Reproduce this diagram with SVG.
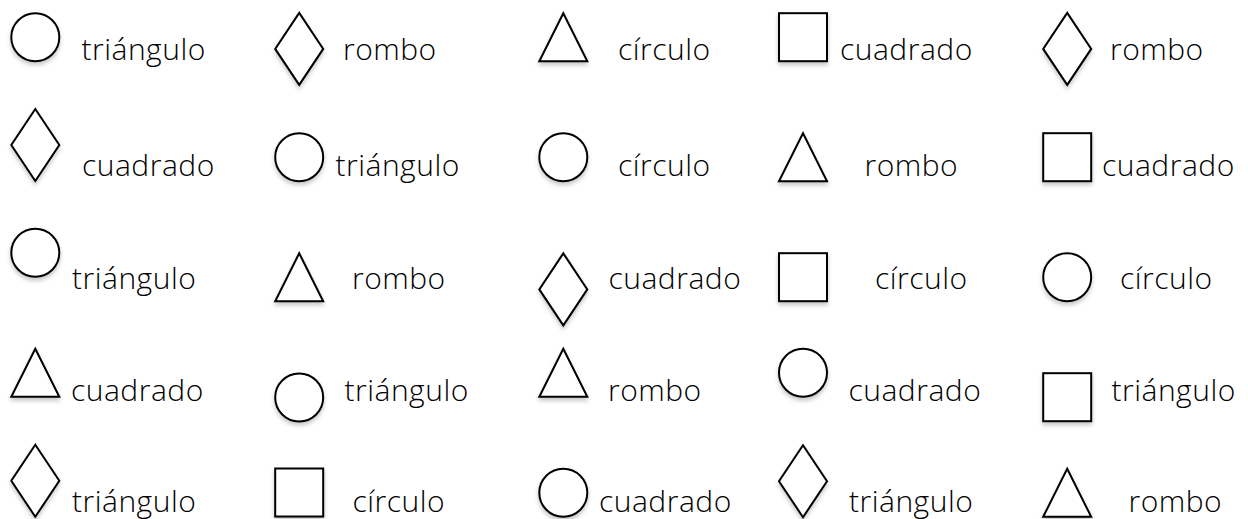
<svg xmlns="http://www.w3.org/2000/svg" xmlns:xlink="http://www.w3.org/1999/xlink" width="1248" height="519" viewBox="0 0 1248 519">
<style>
.sh{fill:#fff;stroke:#000;stroke-width:2;stroke-linejoin:miter;filter:url(#ds)}
.lb{font-family:"Open Sans","Liberation Sans",sans-serif;font-size:30px;font-weight:350;letter-spacing:0.5px;fill:#000}
</style>
<defs>
<filter id="ds" x="-30%" y="-30%" width="160%" height="170%">
<feDropShadow dx="0" dy="3" stdDeviation="2" flood-color="#000" flood-opacity="0.22"/>
</filter>
<circle id="c" cx="0" cy="0" r="24"/>
<rect id="s" x="-24" y="-24" width="48" height="48"/>
<polygon id="t" points="0,-24 24,24 -24,24"/>
<polygon id="d" points="0,-36 24,0 0,36 -24,0"/>
</defs>
<rect width="1248" height="519" fill="#fff"/>
<g id="connectors"></g>
<g id="r1c1"><use href="#c" class="sh" x="35.3" y="37.2"/><text class="lb" x="81.5" y="59.8">triángulo</text></g>
<g id="r1c2"><use href="#d" class="sh" x="299.2" y="48.9"/><text class="lb" x="343" y="59.8">rombo</text></g>
<g id="r1c3"><use href="#t" class="sh" x="563.3" y="37.2"/><text class="lb" x="618" y="59.8">círculo</text></g>
<g id="r1c4"><use href="#s" class="sh" x="803" y="37.2"/><text class="lb" x="840" y="59.8">cuadrado</text></g>
<g id="r1c5"><use href="#d" class="sh" x="1067.2" y="48.9"/><text class="lb" x="1110" y="59.8">rombo</text></g>

<g id="r2c1"><use href="#d" class="sh" x="35.3" y="145"/><text class="lb" x="82" y="175.5">cuadrado</text></g>
<g id="r2c2"><use href="#c" class="sh" x="299.2" y="157.2"/><text class="lb" x="335.5" y="175.5">triángulo</text></g>
<g id="r2c3"><use href="#c" class="sh" x="563.3" y="157.2"/><text class="lb" x="618" y="175.5">círculo</text></g>
<g id="r2c4"><use href="#t" class="sh" x="803" y="157.2"/><text class="lb" x="864.5" y="175.5">rombo</text></g>
<g id="r2c5"><use href="#s" class="sh" x="1067.2" y="157.2"/><text class="lb" x="1102" y="175.5">cuadrado</text></g>

<g id="r3c1"><use href="#c" class="sh" x="35.3" y="252.8"/><text class="lb" x="72" y="288.8">triángulo</text></g>
<g id="r3c2"><use href="#t" class="sh" x="299.2" y="277.2"/><text class="lb" x="352" y="288.8">rombo</text></g>
<g id="r3c3"><use href="#d" class="sh" x="563.3" y="289.4"/><text class="lb" x="608.5" y="288.8">cuadrado</text></g>
<g id="r3c4"><use href="#s" class="sh" x="803" y="277.2"/><text class="lb" x="875" y="288.8">círculo</text></g>
<g id="r3c5"><use href="#c" class="sh" x="1067.2" y="277.2"/><text class="lb" x="1120" y="288.8">círculo</text></g>

<g id="r4c1"><use href="#t" class="sh" x="35.3" y="372.8"/><text class="lb" x="71" y="400.5">cuadrado</text></g>
<g id="r4c2"><use href="#c" class="sh" x="299.2" y="397.5"/><text class="lb" x="344.5" y="400.5">triángulo</text></g>
<g id="r4c3"><use href="#t" class="sh" x="563.3" y="372.8"/><text class="lb" x="608" y="400.5">rombo</text></g>
<g id="r4c4"><use href="#c" class="sh" x="803" y="372.8"/><text class="lb" x="848.5" y="400.5">cuadrado</text></g>
<g id="r4c5"><use href="#s" class="sh" x="1067.2" y="397.2"/><text class="lb" x="1111.5" y="400.5">triángulo</text></g>

<g id="r5c1"><use href="#d" class="sh" x="35.3" y="480.8"/><text class="lb" x="72" y="511.8">triángulo</text></g>
<g id="r5c2"><use href="#s" class="sh" x="299.2" y="492.5"/><text class="lb" x="352.5" y="511.8">círculo</text></g>
<g id="r5c3"><use href="#c" class="sh" x="563.3" y="492.8"/><text class="lb" x="599" y="511.8">cuadrado</text></g>
<g id="r5c4"><use href="#d" class="sh" x="803" y="481.2"/><text class="lb" x="849" y="511.8">triángulo</text></g>
<g id="r5c5"><use href="#t" class="sh" x="1067.2" y="492.8"/><text class="lb" x="1128.5" y="511.8">rombo</text></g>
</svg>
